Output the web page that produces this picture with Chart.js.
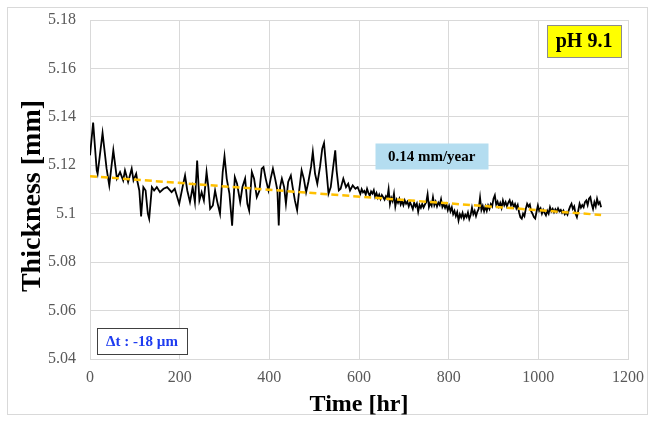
<!DOCTYPE html>
<html>
<head>
<meta charset="utf-8">
<script src="https://cdn.jsdelivr.net/npm/chart.js@4/dist/chart.umd.min.js"></script>
<style>
html,body{margin:0;padding:0;background:#fff;}
#wrap{width:648px;height:422px;position:relative;}
</style>
</head>
<body>
<div id="wrap"><canvas id="c" width="648" height="422"></canvas></div>
<script>
// ---- data ----
const timeHr = [0,7,15,17,28,37,43,52,60,67,74,78,85,93,97,103,106,110,114,119,124,129,132,138,143,149,156,164,172,182,189,199,208,212,217,223,229,234,239,244,249,254,260,264,268,274,279,284,290,296,300,305,
311,317,323,328,335,340,346,351,355,361,366,372,378,383,387,392,398,403,408,413,418,421,424,428,433,437,442,448,452,457,462,467,472,477,482,487,493,497,502,507,513,518,522,526,532,537,541,547,550,555,559,565,571,576,580,586,592,597,
600,603,606,609,612,615,618,621,624,627,630,633,636,639,642,645,648,651,654,657,660,663,666,669,672,675,678,681,684,687,690,693,696,699,
702,705,708,711,714,717,720,723,726,729,732,735,738,741,744,747,750,753,756,759,762,765,768,771,774,777,780,783,786,789,792,795,798,
801,804,807,810,813,816,819,822,825,828,831,834,837,840,843,846,849,852,855,858,861,864,867,870,873,876,879,882,885,888,891,894,897,
900,903,906,909,912,915,918,921,924,927,930,933,936,939,942,945,948,951,954,957,960,963,966,969,972,975,978,981,984,987,990,993,996,999,
1002,1005,1008,1011,1014,1017,1020,1023,1026,1029,1032,1035,1038,1041,1044,1047,1050,1053,1056,1059,1062,1065,1068,1071,1074,1077,1080,1083,1086,1089,1092,1095,1098,
1101,1104,1107,1110,1113,1116,1119,1122,1125,1128,1131,1134,1137,1140];
const thicknessMm = [5.1241,5.1376,5.1179,5.1165,5.1333,5.1186,5.1117,5.1262,5.1145,5.1172,5.1138,5.1179,5.1131,5.1186,5.1138,5.1165,5.1131,5.1096,5.0989,5.1110,5.1096,5.1000,5.0979,5.1110,5.1096,5.1110,5.1089,5.1103,5.1110,5.1089,5.1103,5.1041,5.1124,5.1158,5.1096,5.1048,5.1110,5.1048,5.1220,5.1055,5.1089,5.1055,5.1172,5.1110,5.1020,5.1034,5.1096,5.1048,5.1000,5.1172,5.1237,5.1144,
5.1083,5.0951,5.1151,5.1124,5.1048,5.1110,5.1145,5.1041,5.1013,5.1172,5.1145,5.1069,5.1096,5.1186,5.1193,5.1144,5.1096,5.1145,5.1186,5.1144,5.1096,5.0951,5.1110,5.1145,5.1110,5.1041,5.1131,5.1158,5.1110,5.1055,5.1014,5.1103,5.1179,5.1144,5.1089,5.1131,5.1193,5.1255,5.1165,5.1124,5.1193,5.1269,5.1292,5.1207,5.1083,5.1110,5.1172,5.1262,5.1179,5.1096,5.1103,5.1145,5.1110,5.1124,5.1096,5.1117,5.1103,5.1110,
5.1096,5.1082,5.1101,5.1088,5.1094,5.1079,5.1103,5.1086,5.1074,5.1092,5.1083,5.1097,5.1070,5.1085,5.1066,5.1079,5.1061,5.1077,5.1068,5.1058,5.1072,5.1063,5.1101,5.1040,5.1066,5.1052,5.1083,5.1030,5.1058,5.1045,5.1061,5.1038,5.1052,5.1035,
5.1055,5.1041,5.1050,5.1030,5.1047,5.1034,5.1019,5.1045,5.1030,5.1042,5.1008,5.1036,5.1024,5.1040,5.1026,5.1038,5.1048,5.1080,5.1028,5.1045,5.1033,5.1068,5.1035,5.1050,5.1030,5.1046,5.1036,5.1060,5.1028,5.1040,5.1024,5.1038,5.1015,
5.1032,5.1010,5.1026,5.0998,5.1012,5.0990,5.1006,5.0972,5.0998,5.0985,5.1003,5.0980,5.0996,5.0986,5.1005,5.0978,5.0995,5.1025,5.0998,5.1012,5.0990,5.1008,5.1020,5.1066,5.1015,5.1032,5.1010,5.1030,5.1012,5.1034,5.1020,5.1040,5.1030,
5.1062,5.1076,5.1038,5.1050,5.1030,5.1045,5.1025,5.1055,5.1035,5.1048,5.1030,5.1046,5.1056,5.1035,5.1048,5.1028,5.1040,5.1022,5.1036,5.1006,5.0985,5.0979,5.1000,5.0990,5.1020,5.1041,5.1030,5.1038,5.1010,5.1000,5.0986,5.0980,5.1008,5.1034,
5.1012,5.1022,5.1000,5.1016,5.1004,5.0993,5.1012,5.1000,5.1027,5.1010,5.1020,5.1006,5.1018,5.1008,5.1022,5.1010,5.1016,5.1004,5.1013,5.0998,5.1006,5.0996,5.1015,5.1030,5.1041,5.1020,5.1030,5.1000,5.0986,5.1012,5.1041,5.1025,5.1036,
5.1027,5.1048,5.1055,5.1036,5.1062,5.1069,5.1040,5.1020,5.1048,5.1030,5.1062,5.1040,5.1048,5.1027];
const trendTimes = [0, 1140];
const trendValues = [5.1155, 5.0995];
const xTicks = [0,200,400,600,800,1000,1200];
const yTicks = [5.04,5.06,5.08,5.10,5.12,5.14,5.16,5.18];
const xTitle = 'Time [hr]';
const yTitle = 'Thickness [mm]';
const annotTexts = ['0.14 mm/year','pH 9.1','\u0394t : -18 \u00b5m'];
const annotAt = [[762,5.1237],[1102,5.1713],[116,5.0475]];

const serif = '"Liberation Serif","Times New Roman",serif';

const mainPts = timeHr.map((t,i)=>({x:t,y:thicknessMm[i]}));
const trendPts = trendTimes.map((t,i)=>({x:t,y:trendValues[i]}));

const annotStyles = [
  {w:113,h:26,fill:'#B4DDF0',stroke:null,color:'#000',font:'bold 15px '+serif},
  {w:74,h:32,fill:'#FFFF00',stroke:'#8c8c8c',color:'#000',font:'bold 20px '+serif},
  {w:90,h:26,fill:'#FFFFFF',stroke:'#404040',color:'#1E3CF0',font:'bold 15px '+serif}
];

const frame = {
  id:'frame',
  beforeDraw(chart){
    const ctx=chart.ctx;
    ctx.save();
    ctx.fillStyle='#fff';
    ctx.fillRect(0,0,chart.width,chart.height);
    ctx.strokeStyle='#d9d9d9';
    ctx.lineWidth=1;
    ctx.strokeRect(7.5,7.5,640,407);
    ctx.restore();
  },
  afterDraw(chart){
    const ctx=chart.ctx;
    ctx.save();
    ctx.translate(33,196);
    ctx.rotate(-Math.PI/2);
    ctx.fillStyle='#000';
    ctx.font='bold 28px '+serif;
    ctx.textAlign='center';
    ctx.textBaseline='middle';
    ctx.fillText(yTitle,0,0);
    ctx.restore();
  }
};
const notes = {
  id:'notes',
  afterDatasetsDraw(chart){
    const ctx=chart.ctx, xs=chart.scales.x, ys=chart.scales.y;
    ctx.save();
    annotTexts.forEach((txt,i)=>{
      const st=annotStyles[i];
      const cx=xs.getPixelForValue(annotAt[i][0]);
      const cy=ys.getPixelForValue(annotAt[i][1]);
      const x0=Math.round(cx-st.w/2)+0.5, y0=Math.round(cy-st.h/2)+0.5;
      ctx.fillStyle=st.fill;
      ctx.fillRect(x0,y0,st.w,st.h);
      if(st.stroke){ctx.strokeStyle=st.stroke;ctx.lineWidth=1;ctx.strokeRect(x0,y0,st.w,st.h);}
      ctx.fillStyle=st.color;
      ctx.font=st.font;
      ctx.textAlign='center';
      ctx.textBaseline='middle';
      ctx.fillText(txt,cx,cy+1);
    });
    ctx.restore();
  }
};

new Chart(document.getElementById('c'),{
  type:'line',
  data:{datasets:[
    {data:trendPts,borderColor:'#FFC000',borderWidth:2.5,borderDash:[7,4],pointRadius:0,fill:false,order:1},
    {data:mainPts,borderColor:'#000000',borderWidth:1.8,pointRadius:0,fill:false,tension:0,order:2}
  ]},
  options:{
    responsive:false,animation:false,
    layout:{padding:{left:0,right:20,top:20,bottom:0}},
    plugins:{legend:{display:false},tooltip:{enabled:false}},
    scales:{
      x:{type:'linear',min:0,max:1200,
        afterBuildTicks(s){s.ticks=xTicks.map(v=>({value:v}));},
        afterFit(s){s.height=63;s.paddingLeft=0;s.paddingRight=0;},
        grid:{color:'#d9d9d9',lineWidth:1,drawTicks:false},
        border:{color:'#d9d9d9'},
        ticks:{padding:9,color:'#595959',font:{family:serif,size:16},maxRotation:0,callback:v=>String(v)},
        title:{display:true,text:xTitle,color:'#000',font:{family:serif,size:24,weight:'bold'},padding:{top:0,bottom:3}}
      },
      y:{type:'linear',min:5.04,max:5.18,
        afterBuildTicks(s){s.ticks=yTicks.map(v=>({value:v}));},
        afterFit(s){s.width=90;s.paddingTop=0;s.paddingBottom=0;},
        grid:{color:'#d9d9d9',lineWidth:1,drawTicks:false},
        border:{color:'#d9d9d9'},
        ticks:{padding:14,color:'#595959',font:{family:serif,size:16},callback:v=>String(Number(v.toFixed(2)))},
        title:{display:false}
      }
    }
  },
  plugins:[frame,notes]
});
</script>
</body>
</html>
